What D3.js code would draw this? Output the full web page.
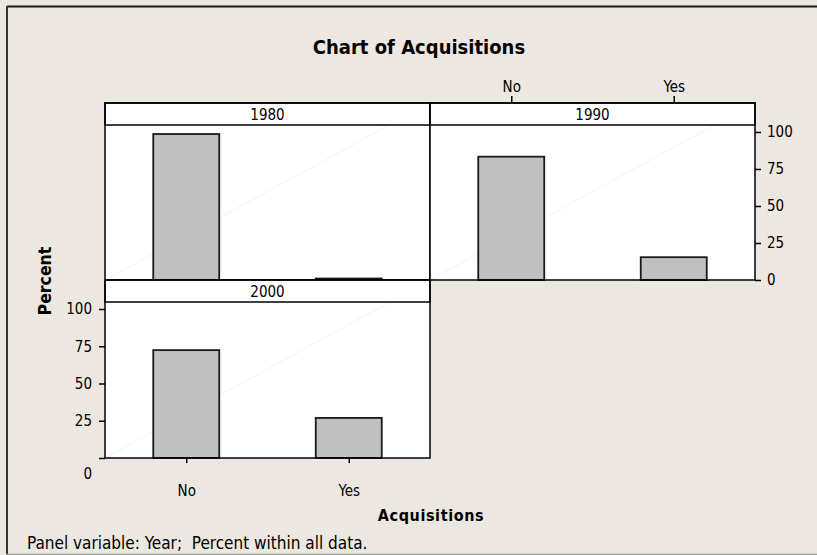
<!DOCTYPE html>
<html><head><meta charset="utf-8">
<script src="https://cdn.jsdelivr.net/npm/d3@7"></script>
<style>
html,body{margin:0;padding:0;background:#ece8e1;}
svg{display:block;}
text{font-family:"DejaVu Sans Condensed","DejaVu Sans",sans-serif;fill:#000;white-space:pre;}
</style></head><body>
<svg id="c" width="817" height="555"></svg>
<script>
const categories = ["No", "Yes"];
const years = ["1980", "1990", "2000"];
const values1980 = [98.6, 1.0];
const values1990 = [83.3, 15.4];
const values2000 = [72.4, 26.9];
const yTicks = [0, 25, 50, 75, 100];
const title = "Chart of Acquisitions";
const xLabel = "Acquisitions";
const yLabel = "Percent";
const footnote = "Panel variable: Year;  Percent within all data.";

const seriesByYear = {"1980": values1980, "1990": values1990, "2000": values2000};

const svg = d3.select("#c");
const W = 817, H = 555;
svg.append("rect").attr("width", W).attr("height", H).attr("fill", "#ece8e1");
// outer frame
svg.append("line").attr("x1", 7).attr("x2", W).attr("y1", 6.5).attr("y2", 6.5).attr("stroke", "#1a1a1a").attr("stroke-width", 2);
svg.append("line").attr("x1", 7).attr("x2", 7).attr("y1", 6).attr("y2", 554).attr("stroke", "#333").attr("stroke-width", 2);
svg.append("line").attr("x1", 6).attr("x2", W).attr("y1", 554.5).attr("y2", 554.5).attr("stroke", "#999").attr("stroke-width", 1.5);

const colX = [105, 430];
const panelW = 325;
const rows = [{strip: 103, top: 125, bottom: 280}, {strip: 280, top: 302, bottom: 458}];
const layout = {"1980": [0, 0], "1990": [1, 0], "2000": [0, 1]};
const yMax = 104.7;

const x = d3.scalePoint().domain(categories).range([0, panelW]).padding(0.5);
const barW = 66;

years.forEach(yr => {
  const [c, r] = layout[yr];
  const x0 = colX[c], row = rows[r];
  const y = d3.scaleLinear().domain([0, yMax]).range([row.bottom, row.top]);
  const g = svg.append("g");
  g.append("rect").attr("x", x0).attr("y", row.strip).attr("width", panelW).attr("height", row.bottom - row.strip).attr("fill", "#fff");
  // faint diagonal
  g.append("line").attr("x1", x0).attr("y1", row.bottom).attr("x2", x0 + panelW).attr("y2", row.strip)
    .attr("stroke", "#f6f3ec").attr("stroke-width", 1);
  // bars
  g.selectAll("rect.bar").data(categories.map((k, i) => ({k, v: seriesByYear[yr][i]}))).enter()
    .append("rect").attr("class", "bar")
    .attr("x", d => x0 + x(d.k) - barW / 2)
    .attr("y", d => y(d.v))
    .attr("width", barW)
    .attr("height", d => y(0) - y(d.v))
    .attr("fill", "#c0c0c0").attr("stroke", "#1a1a1a").attr("stroke-width", 1.8);
  // strip
  g.append("rect").attr("x", x0).attr("y", row.strip).attr("width", panelW).attr("height", row.top - row.strip)
    .attr("fill", "#fff").attr("stroke", "#000").attr("stroke-width", 1.5);
  g.append("text").attr("x", x0 + panelW / 2).attr("y", row.strip + 16.5).attr("text-anchor", "middle")
    .style("font-size", "15px").text(yr);
  // panel border
  g.append("rect").attr("x", x0).attr("y", row.strip).attr("width", panelW).attr("height", row.bottom - row.strip)
    .attr("fill", "none").attr("stroke", "#000").attr("stroke-width", 1.5);
});

function styleAxis(sel) {
  sel.select(".domain").remove();
  sel.selectAll("line").attr("stroke", "#000").attr("stroke-width", 1.5);
  sel.selectAll("text").style("font-size", "15px").attr("font-family", null);
}

// right axis on 1990 panel
const yTop = d3.scaleLinear().domain([0, yMax]).range([rows[0].bottom, rows[0].top]);
svg.append("g").attr("transform", `translate(${colX[1] + panelW},0)`)
  .call(d3.axisRight(yTop).tickValues(yTicks).tickSize(6).tickPadding(6))
  .call(styleAxis);

// left axis on 2000 panel
const yBot = d3.scaleLinear().domain([0, yMax]).range([rows[1].bottom, rows[1].top]);
const la = svg.append("g").attr("transform", `translate(${colX[0]},0)`)
  .call(d3.axisLeft(yBot).tickValues(yTicks).tickSize(6).tickPadding(7))
  .call(styleAxis);
la.selectAll(".tick").filter(d => d === 0).select("text").attr("dy", "1.35em");

// top axis on 1990 panel
svg.append("g").attr("transform", `translate(${colX[1]},${rows[0].strip})`)
  .call(d3.axisTop(x).tickSize(7).tickPadding(4))
  .call(styleAxis);

// bottom axis on 2000 panel
svg.append("g").attr("transform", `translate(${colX[0]},${rows[1].bottom})`)
  .call(d3.axisBottom(x).tickSize(5).tickPadding(22))
  .call(styleAxis);

// titles
svg.append("text").attr("x", 419).attr("y", 54).attr("text-anchor", "middle")
  .style("font-size", "20px").style("font-weight", "bold").text(title);
svg.append("text").attr("x", 431).attr("y", 521).attr("text-anchor", "middle")
  .style("font-size", "16px").style("font-weight", "bold").style("letter-spacing", "0.6px").text(xLabel);
svg.append("text").attr("transform", "translate(51,281) rotate(-90)").attr("text-anchor", "middle")
  .style("font-size", "17.5px").style("font-weight", "bold").text(yLabel);
svg.append("text").attr("x", 27).attr("y", 549).attr("xml:space", "preserve").style("font-size", "17px").text(footnote);
</script>
</body></html>
